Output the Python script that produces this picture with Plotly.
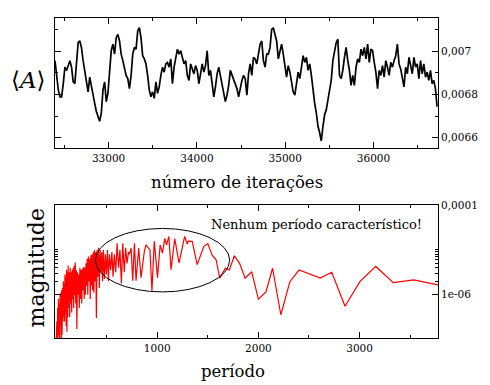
import numpy as np
import plotly.graph_objects as go

# ---------------- top panel: <A> versus iteration number ----------------
ITER_START = 32393
ITER_STEP = 18.73
A_VALUES = [
    0.006956, 0.006873, 0.006820, 0.006789, 0.006789, 0.006850, 0.006926, 0.006911, 0.006933, 0.006956,
    0.006926, 0.006858, 0.006850, 0.006956, 0.007039, 0.007047, 0.007017, 0.006956, 0.006903, 0.006850,
    0.006812, 0.006880, 0.006835, 0.006789, 0.006759, 0.006721, 0.006698, 0.006676, 0.006714, 0.006820,
    0.006858, 0.006767, 0.006805, 0.006888, 0.007002, 0.007032, 0.006986, 0.007062, 0.007077, 0.007047,
    0.006986, 0.006956, 0.006926, 0.006888, 0.006873, 0.006827, 0.006888, 0.006986, 0.007017, 0.007009,
    0.007092, 0.007108, 0.007062, 0.006979, 0.006964, 0.006941, 0.006888,
    0.006820, 0.006789, 0.006812, 0.006782, 0.006858, 0.006805, 0.006835, 0.006888, 0.006926, 0.006903,
    0.006941, 0.006948, 0.006926, 0.006964, 0.006850, 0.006926, 0.006971, 0.007009, 0.006986, 0.007002,
    0.006971, 0.006941, 0.006956, 0.006888, 0.006865, 0.006941, 0.006918, 0.006895, 0.006933, 0.006911,
    0.006850, 0.006903, 0.006941, 0.006903, 0.006933, 0.007002, 0.006888, 0.006911, 0.006850, 0.006789,
    0.006835, 0.006895, 0.006926, 0.006888, 0.006835, 0.006797, 0.006767, 0.006797, 0.006842, 0.006911,
    0.006888, 0.006865, 0.006850, 0.006827, 0.006789, 0.006835, 0.006865,
    0.006888, 0.006873, 0.006797, 0.006895, 0.006941, 0.006888, 0.006971, 0.006964, 0.006941, 0.006986,
    0.007032, 0.007047, 0.006956, 0.006926, 0.006986, 0.006986, 0.007017, 0.007100, 0.007108, 0.007077,
    0.007047, 0.006964, 0.007002, 0.007032, 0.006986, 0.006918, 0.006880, 0.006933, 0.006903, 0.006858,
    0.006812, 0.006797, 0.006850, 0.006903, 0.006873, 0.006941, 0.006979, 0.006948, 0.006971, 0.006911,
    0.006941, 0.006888, 0.006805, 0.006759, 0.006714, 0.006653, 0.006623, 0.006585, 0.006653, 0.006706,
    0.006729, 0.006774, 0.006805, 0.006865, 0.006956, 0.007002, 0.007039,
    0.007055, 0.006888, 0.006873, 0.006911, 0.006971, 0.007017, 0.006956, 0.006911, 0.006842, 0.006888,
    0.006842, 0.006926, 0.006964, 0.006948, 0.007009, 0.006979, 0.007017, 0.006964, 0.007032, 0.006948,
    0.007009, 0.007002, 0.006948, 0.006903, 0.006827, 0.006911, 0.006888, 0.006933, 0.006880, 0.006956,
    0.006926, 0.006888, 0.006948, 0.006926, 0.006956, 0.006979, 0.007032, 0.006941, 0.006918, 0.006873,
    0.006835, 0.006926, 0.006895, 0.006971, 0.006933, 0.006895, 0.006971, 0.006926, 0.006941, 0.006873,
    0.006956, 0.006895, 0.006941, 0.006880, 0.006903, 0.006865, 0.006911, 0.006850, 0.006865, 0.006827,
    0.006744,
]
ITERATIONS = ITER_START + ITER_STEP * np.arange(len(A_VALUES))

TOP_Y_TICKS = [0.0066, 0.0068, 0.0070]
TOP_Y_TICKTEXT = ["0,0066", "0,0068", "0,007"]
TOP_Y_MINOR = [0.0067, 0.0069, 0.0071]
TOP_X_TICKS = [33000, 34000, 35000, 36000]
TOP_X_MINOR = [32500, 33500, 34500, 35500, 36500]

# ---------------- bottom panel: spectrum magnitude versus period ----------------
PERIOD = [
    3, 8, 12, 16, 20, 24, 28, 32, 36, 40, 44, 48, 52, 56, 60, 64, 68, 72, 76, 80,
    84, 88, 92, 96, 100, 104, 108, 112, 116, 120, 125, 130, 135, 140, 145, 150, 155, 160, 165, 170,
    175, 180, 185, 190, 195, 200, 206, 212, 218, 224, 230, 236, 242, 248, 254, 260, 266, 272, 278, 284,
    290, 296, 302, 308, 314, 320, 326, 332, 338, 344, 350, 356, 362, 368, 374, 380, 386, 392, 399, 405,
    412, 420, 428, 436, 444, 452, 460, 468, 478, 488, 498, 508, 518, 528, 540, 552, 564, 576, 590, 604,
    618, 632, 646, 660, 674, 688, 702, 716,
    725, 742, 758, 775, 791, 817, 840, 873, 889, 928, 948, 971, 1003, 1029, 1052, 1075, 1092, 1115,
    1137, 1173, 1216, 1271, 1297, 1307, 1346, 1395, 1461, 1500, 1543, 1582, 1618, 1673, 1713, 1762,
    1814, 1869, 1934, 2000, 2075, 2140, 2222, 2311, 2402, 2611, 2725, 2856, 3003, 3160, 3333, 3536, 3775,
]
MAGNITUDE = [
    1.07e-7, 2.51e-7, 1.12e-7, 5.01e-7, 1.07e-7, 7.94e-7, 1.26e-7, 6.31e-7, 1.07e-7, 1.0e-6,
    2.0e-7, 1.12e-6, 1.07e-7, 1.26e-6, 1.26e-7, 1.41e-6, 2.51e-7, 2.0e-6, 3.16e-7, 1.78e-6,
    2.51e-7, 2.82e-6, 3.98e-7, 2.51e-6, 2.0e-7, 3.55e-6, 1.48e-7, 3.16e-6, 3.16e-7, 4.47e-6,
    5.01e-7, 3.16e-6, 3.16e-7, 3.98e-6, 6.31e-7, 3.16e-6, 3.98e-7, 3.55e-6, 7.94e-7, 3.98e-6,
    5.01e-7, 4.47e-6, 1.0e-6, 5.25e-6, 6.31e-7, 3.55e-6, 1.70e-7, 3.16e-6, 1.0e-6, 2.82e-6,
    5.01e-7, 3.98e-6, 7.94e-7, 3.55e-6, 6.31e-7, 3.80e-6, 1.26e-6, 4.17e-6, 7.94e-7, 3.98e-6,
    1.0e-6, 5.01e-6, 1.58e-6, 6.31e-6, 1.0e-6, 7.08e-6, 2.0e-6, 6.31e-6, 7.94e-7, 7.59e-6,
    1.58e-6, 7.94e-6, 1.26e-6, 8.91e-6, 1.12e-6, 1.0e-5, 2.0e-6, 8.91e-6, 3.02e-7, 1.0e-5,
    2.51e-6, 1.12e-5, 1.41e-6, 1.0e-5, 3.16e-6, 8.91e-6, 2.0e-6, 1.0e-5, 2.24e-6, 7.94e-6,
    2.82e-6, 1.0e-5, 2.0e-6, 7.94e-6, 3.55e-6, 8.91e-6, 2.51e-6, 7.94e-6, 3.16e-6, 1.41e-5,
    3.98e-6, 1.0e-5, 1.78e-6, 1.41e-5, 3.16e-6, 1.12e-5, 5.01e-6, 8.91e-6,
    7.94e-6, 1.10e-5, 2.04e-6, 1.41e-5, 2.04e-6, 1.10e-5, 2.40e-6, 9.33e-6, 1.29e-5, 1.0e-5,
    1.23e-6, 1.55e-5, 2.40e-6, 1.29e-5, 8.51e-6, 1.82e-5, 1.29e-5, 2.0e-5,
    3.63e-6, 1.78e-5, 5.13e-6, 2.0e-5, 1.35e-5, 1.58e-5, 1.55e-5, 4.68e-6, 1.20e-5, 1.38e-5,
    7.59e-6, 6.03e-6, 2.34e-6, 3.89e-6, 3.55e-6, 7.41e-6,
    5.01e-6, 2.34e-6, 3.24e-6, 7.94e-7, 1.15e-6, 3.89e-6, 3.55e-7, 1.95e-6, 3.55e-6, 2.34e-6,
    3.16e-6, 5.50e-7, 1.95e-6, 4.27e-6, 1.86e-6, 2.14e-6, 1.66e-6,
]

BOT_Y_TICKS = [1e-6, 1e-4]
BOT_Y_TICKTEXT = ["1e-06", "0,0001"]
BOT_Y_MINOR = [2e-6, 3e-6, 4e-6, 5e-6, 6e-6, 7e-6, 8e-6, 9e-6, 1e-5]
BOT_X_TICKS = [1000, 2000, 3000]
BOT_X_MINOR = [500, 1500, 2500, 3500]

SERIF = "DejaVu Serif"

fig = go.Figure()
fig.add_trace(go.Scatter(x=ITERATIONS, y=A_VALUES, mode="lines",
                         line=dict(color="black", width=1.7), xaxis="x", yaxis="y",
                         showlegend=False, hoverinfo="skip"))
fig.add_trace(go.Scatter(x=PERIOD, y=MAGNITUDE, mode="lines",
                         line=dict(color="#ff0000", width=1.2), xaxis="x2", yaxis="y2",
                         showlegend=False, hoverinfo="skip"))

tickfont = dict(family=SERIF, size=10.5, color="black")
common = dict(showline=True, linecolor="black", linewidth=1, mirror="ticks",
              ticks="inside", ticklen=6, tickcolor="black", tickwidth=1,
              showgrid=False, zeroline=False, tickfont=tickfont)

fig.update_layout(
    width=490, height=385,
    margin=dict(l=55, r=49, t=13, b=47),
    paper_bgcolor="white", plot_bgcolor="white",
    xaxis=dict(domain=[0, 1], anchor="y", range=[32393, 36730],
               tickvals=TOP_X_TICKS, ticktext=[str(v) for v in TOP_X_TICKS],
               minor=dict(tickvals=TOP_X_MINOR, ticks="inside", ticklen=3, tickcolor="black"),
               **common),
    yaxis=dict(domain=[0.594, 1.0], anchor="x", side="right", range=[0.006553, 0.007153],
               tickvals=TOP_Y_TICKS, ticktext=TOP_Y_TICKTEXT,
               minor=dict(tickvals=TOP_Y_MINOR, ticks="inside", ticklen=3, tickcolor="black"),
               **common),
    xaxis2=dict(domain=[0, 1], anchor="y2", range=[-10, 3775],
                tickvals=BOT_X_TICKS, ticktext=[str(v) for v in BOT_X_TICKS],
                minor=dict(tickvals=BOT_X_MINOR, ticks="inside", ticklen=3, tickcolor="black"),
                **common),
    yaxis2=dict(domain=[0, 0.415], anchor="x2", side="right", type="log", range=[-6.97, -4.0],
                tickvals=BOT_Y_TICKS, ticktext=BOT_Y_TICKTEXT,
                minor=dict(tickvals=BOT_Y_MINOR, ticks="inside", ticklen=3, tickcolor="black"),
                **common),
    shapes=[dict(type="circle", xref="x2", yref="y2 domain", x0=389, x1=1716, y0=0.347, y1=0.825,
                 line=dict(color="black", width=1))],
    annotations=[
        dict(text="⟨<i>A</i>⟩", xref="paper", yref="paper", x=-0.07, y=0.806,
             showarrow=False, font=dict(family=SERIF, size=23, color="black"),
             xanchor="center", yanchor="middle"),
        dict(text="número de iterações", xref="paper", yref="paper", x=0.474, y=0.487,
             showarrow=False, font=dict(family=SERIF, size=16.5, color="black"),
             xanchor="center", yanchor="middle"),
        dict(text="período", xref="paper", yref="paper", x=0.464, y=-0.104,
             showarrow=False, font=dict(family=SERIF, size=16.5, color="black"),
             xanchor="center", yanchor="middle"),
        dict(text="magnitude", xref="paper", yref="paper", x=-0.049, y=0.218, textangle=-90,
             showarrow=False, font=dict(family=SERIF, size=22, color="black"),
             xanchor="center", yanchor="middle"),
        dict(text="Nenhum período característico!", xref="x2", yref="y2", x=2578, y=-4.44,
             showarrow=False, font=dict(family=SERIF, size=13, color="black"),
             xanchor="center", yanchor="middle"),
    ],
)

fig.write_html("out.html")
